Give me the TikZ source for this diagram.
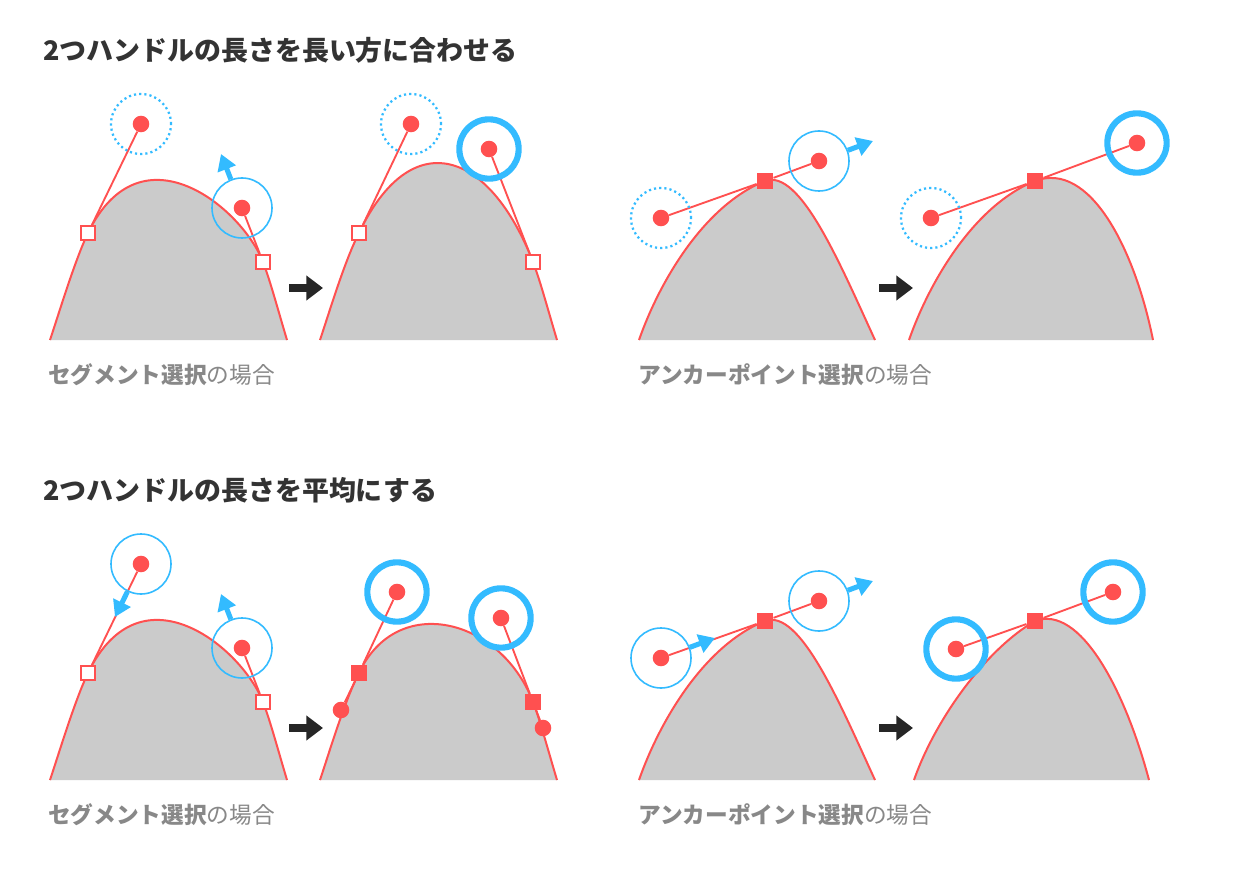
\documentclass[tikz,border=0pt]{standalone}
\usepackage{fontspec}
\setmainfont{Noto Sans CJK JP}
\usetikzlibrary{arrows.meta}
\definecolor{redline}{HTML}{FF5050}
\definecolor{bluering}{HTML}{33BBFF}
\definecolor{humpgray}{HTML}{CBCBCB}
\definecolor{darkarrow}{HTML}{262626}
\definecolor{titletext}{HTML}{333333}
\definecolor{captext}{HTML}{888888}
\tikzset{
  handle/.style={circle,fill=redline,inner sep=0pt,minimum size=12.4pt},
  anchoropen/.style={rectangle,draw=redline,fill=white,line width=1.7pt,inner sep=0pt,minimum size=10.5pt},
  anchorfull/.style={rectangle,fill=redline,inner sep=0pt,minimum size=12.4pt},
  ringthin/.style={circle,draw=bluering,line width=1.2pt,inner sep=0pt,minimum size=45pt},
  ringdots/.style={circle,draw=bluering,line width=1.7pt,dash pattern=on 1.6pt off 2.3pt,inner sep=0pt,minimum size=45pt},
  ringbold/.style={circle,draw=bluering,line width=4.6pt,inner sep=0pt,minimum size=44.5pt},
  humpline/.style={draw=redline,line width=1.5pt},
  handleline/.style={draw=redline,line width=1.4pt},
  pull/.style={draw=bluering,line width=3.8pt,-{Triangle[length=12pt,width=14pt]}},
  result/.style={draw=darkarrow,line width=6pt,-{Triangle[length=12.5pt,width=18pt]}},
  heading/.style={anchor=west,inner sep=0pt,text=titletext,font=\fontsize{20.2pt}{24pt}\selectfont\bfseries},
  caption/.style={anchor=west,inner sep=0pt,text=captext,font=\fontsize{17pt}{20pt}\selectfont},
}
\newcommand{\hump}[1]{\fill[humpgray] #1 -- cycle; \draw[humpline] #1;}
\begin{document}
\begin{tikzpicture}[x=0.75pt,y=-0.75pt]
\path[use as bounding box,fill=white] (0,0) rectangle (1240,870);

\node[heading] (title1) at (43,50) {2つハンドルの長さを長い方に合わせる};
\node[heading] (title2) at (43,490) {2つハンドルの長さを平均にする};

% humps
\hump{(50,340) .. controls (60,310) and (75,260) .. (88,233) .. controls (141,124) and (242,208) .. (263,262) .. controls (270,280) and (278,310) .. (287,340)}
\hump{(320,340) .. controls (330,310) and (345,260) .. (359,233) .. controls (411,124) and (489,149) .. (533,262) .. controls (540,280) and (548,310) .. (557,340)}
\hump{(639,340) .. controls (660,280) and (705,205) .. (765,181) .. controls (800,168) and (840,264) .. (875,340)}
\hump{(909,340) .. controls (930,280) and (975,205) .. (1035,181) .. controls (1090,160) and (1135,250) .. (1153,340)}
\hump{(50,780) .. controls (60,750) and (75,700) .. (88,673) .. controls (141,564) and (242,648) .. (263,702) .. controls (270,720) and (278,750) .. (287,780)}
\hump{(320,780) .. controls (330,750) and (345,700) .. (359,673) .. controls (397,592) and (501,618) .. (533,702) .. controls (540,720) and (548,750) .. (557,780)}
\hump{(639,780) .. controls (660,720) and (705,645) .. (765,621) .. controls (800,608) and (840,704) .. (875,780)}
\hump{(914,780) .. controls (935,720) and (985,650) .. (1035,621) .. controls (1080,604) and (1125,690) .. (1149,780)}

% upper row
\node[anchoropen] (a1) at (88,233) {};
\node[anchoropen] (a2) at (263,262) {};
\node[handle] (h1) at (141,124) {};
\node[handle] (h2) at (242,208) {};
\draw[handleline] (a1) -- (h1);
\draw[handleline] (a2) -- (h2);
\node[ringdots] (r1) at (h1) {};
\node[ringthin] (r2) at (h2) {};
\coordinate (t2) at (221,154);
\draw[pull] (r2) -- (t2);

\node[anchoropen] (a3) at (359,233) {};
\node[anchoropen] (a4) at (533,262) {};
\node[handle] (h3) at (411,124) {};
\node[handle] (h4) at (489,149) {};
\draw[handleline] (a3) -- (h3);
\draw[handleline] (a4) -- (h4);
\node[ringdots] (r3) at (h3) {};
\node[ringbold] (r4) at (h4) {};

\node[anchorfull] (a5) at (765,181) {};
\node[handle] (h5) at (661,218) {};
\node[handle] (h6) at (819,161) {};
\draw[handleline] (h5) -- (a5) -- (h6);
\node[ringdots] (r5) at (h5) {};
\node[ringthin] (r6) at (h6) {};
\coordinate (t6) at (873,141);
\draw[pull] (r6) -- (t6);

\node[anchorfull] (a6) at (1035,181) {};
\node[handle] (h7) at (931,218) {};
\node[handle] (h8) at (1137,143) {};
\draw[handleline] (h7) -- (a6) -- (h8);
\node[ringdots] (r7) at (h7) {};
\node[ringbold] (r8) at (h8) {};

% lower row
\node[anchoropen] (a7) at (88,673) {};
\node[anchoropen] (a8) at (263,702) {};
\node[handle] (h9) at (141,564) {};
\node[handle] (h10) at (242,648) {};
\draw[handleline] (a7) -- (h9);
\draw[handleline] (a8) -- (h10);
\node[ringthin] (r9) at (h9) {};
\node[ringthin] (r10) at (h10) {};
\coordinate (t9) at (115,617);
\coordinate (t10) at (221,594);
\draw[pull] (r9) -- (t9);
\draw[pull] (r10) -- (t10);

\node[anchorfull] (a9) at (359,673) {};
\node[anchorfull] (a10) at (533,702) {};
\node[handle] (h11) at (397,592) {};
\node[handle] (h12) at (501,618) {};
\node[handle] (h13) at (341,710) {};
\node[handle] (h14) at (543,728) {};
\draw[handleline] (h13) -- (a9) -- (h11);
\draw[handleline] (h14) -- (a10) -- (h12);
\node[ringbold] (r11) at (h11) {};
\node[ringbold] (r12) at (h12) {};

\node[anchorfull] (a11) at (765,621) {};
\node[handle] (h15) at (661,658) {};
\node[handle] (h16) at (819,601) {};
\draw[handleline] (h15) -- (a11) -- (h16);
\node[ringthin] (r13) at (h15) {};
\node[ringthin] (r14) at (h16) {};
\coordinate (t13) at (715,638);
\coordinate (t14) at (873,581);
\draw[pull] (r13) -- (t13);
\draw[pull] (r14) -- (t14);

\node[anchorfull] (a12) at (1035,621) {};
\node[handle] (h17) at (956,649) {};
\node[handle] (h18) at (1113,592) {};
\draw[handleline] (h17) -- (a12) -- (h18);
\node[ringbold] (r15) at (h17) {};
\node[ringbold] (r16) at (h18) {};

% black arrows
\foreach \x/\y in {289/288,879/288,289/728,879/728}{
  \coordinate (s) at (\x,\y);
  \coordinate (e) at (\x+34,\y);
  \draw[result] (s) -- (e);
}

\node[caption] (cap1) at (48,375) {\textbf{セグメント選択}の場合};
\node[caption] (cap2) at (638,375) {\textbf{アンカーポイント選択}の場合};
\node[caption] (cap3) at (48,815) {\textbf{セグメント選択}の場合};
\node[caption] (cap4) at (638,815) {\textbf{アンカーポイント選択}の場合};
\end{tikzpicture}
\end{document}
